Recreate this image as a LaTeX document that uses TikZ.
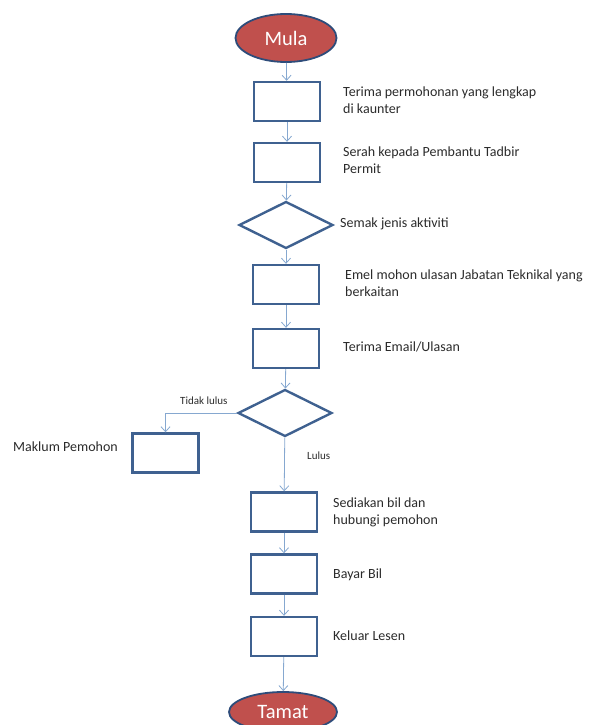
\documentclass[tikz,border=0pt]{standalone}
\usepackage{fontspec}
\setmainfont{Carlito}
\usetikzlibrary{arrows.meta}
\usetikzlibrary{shapes.geometric}
\definecolor{boxblue}{HTML}{3F6190}
\definecolor{linkblue}{HTML}{86A8D0}
\definecolor{termred}{HTML}{C0504D}
\definecolor{termedge}{HTML}{2E4C7A}
\definecolor{labelgray}{HTML}{2B2B2B}
\tikzset{
  stepbox/.style={draw=boxblue,line width=2.4pt,minimum width=66pt,minimum height=39pt,inner sep=0pt},
  checkbox/.style={diamond,draw=boxblue,line width=2.4pt,minimum width=94pt,minimum height=47pt,inner sep=0pt},
  terminal/.style={ellipse,fill=termred,draw=termedge,line width=1.8pt,minimum width=101pt,minimum height=48pt,inner sep=0pt,text=white,font=\fontsize{20.5}{24}\selectfont},
  note/.style={anchor=west,inner sep=0pt,align=left,text=labelgray,font=\fontsize{14}{17}\selectfont},
  smallnote/.style={anchor=west,inner sep=0pt,text=labelgray,font=\fontsize{11}{13}\selectfont},
  link/.style={draw=linkblue,line width=0.8pt,-{Straight Barb[length=5pt,width=9pt]}},
}
\begin{document}
\begin{tikzpicture}[x=1pt,y=-1pt]
\useasboundingbox (0,0) rectangle (600,725);
%%
\node (node_mula) at (286,38) [terminal] {Mula};
\node (node_1) at (287,101.5) [stepbox] {};
\node (node_2) at (287,162.5) [stepbox] {};
\node (node_3) at (286,225) [checkbox] {};
\node (node_4) at (286,284.5) [stepbox] {};
\node (node_5) at (286,348.5) [stepbox] {};
\node (node_6) at (285,413) [checkbox] {};
\node (node_7) at (165.5,453) [stepbox] {};
\node (node_8) at (284,512) [stepbox] {};
\node (node_9) at (284,574) [stepbox] {};
\node (node_10) at (284,636.5) [stepbox] {};
\node (node_tamat) at (283,712) [terminal,minimum width=108pt,minimum height=40pt] {Tamat};
%
\node (text_1) at (343,100) [note] {Terima permohonan yang lengkap\\di kaunter};
\node (text_2) at (343,160) [note] {Serah kepada Pembantu Tadbir\\Permit};
\node (text_3) at (340,224) [note] {Semak jenis aktiviti};
\node (text_4) at (345,283) [note] {Emel mohon ulasan Jabatan Teknikal yang\\berkaitan};
\node (text_5) at (343,347) [note] {Terima Email/Ulasan};
\node (text_no) at (180,401) [smallnote] {Tidak lulus};
\node (text_7) at (13,447) [note] {Maklum Pemohon};
\node (text_yes) at (307,456) [smallnote] {Lulus};
\node (text_8) at (333,512) [note] {Sediakan bil dan\\hubungi pemohon};
\node (text_9) at (333,575) [note] {Bayar Bil};
\node (text_10) at (333,636) [note] {Keluar Lesen};
%
\draw [link] (node_mula) -- (node_1);
\draw [link] (node_1) -- (node_2);
\draw [link] (node_2) -- (node_3);
\draw [link] (node_3) -- (node_4);
\draw [link] (node_4) -- (node_5);
\draw [link] (node_5) -- (node_6);
\draw [link] (node_6.west) -| (node_7);
\draw [link] (node_6) -- (node_8);
\draw [link] (node_8) -- (node_9);
\draw [link] (node_9) -- (node_10);
\draw [link] (node_10) -- (node_tamat);
%
\end{tikzpicture}
\end{document}
